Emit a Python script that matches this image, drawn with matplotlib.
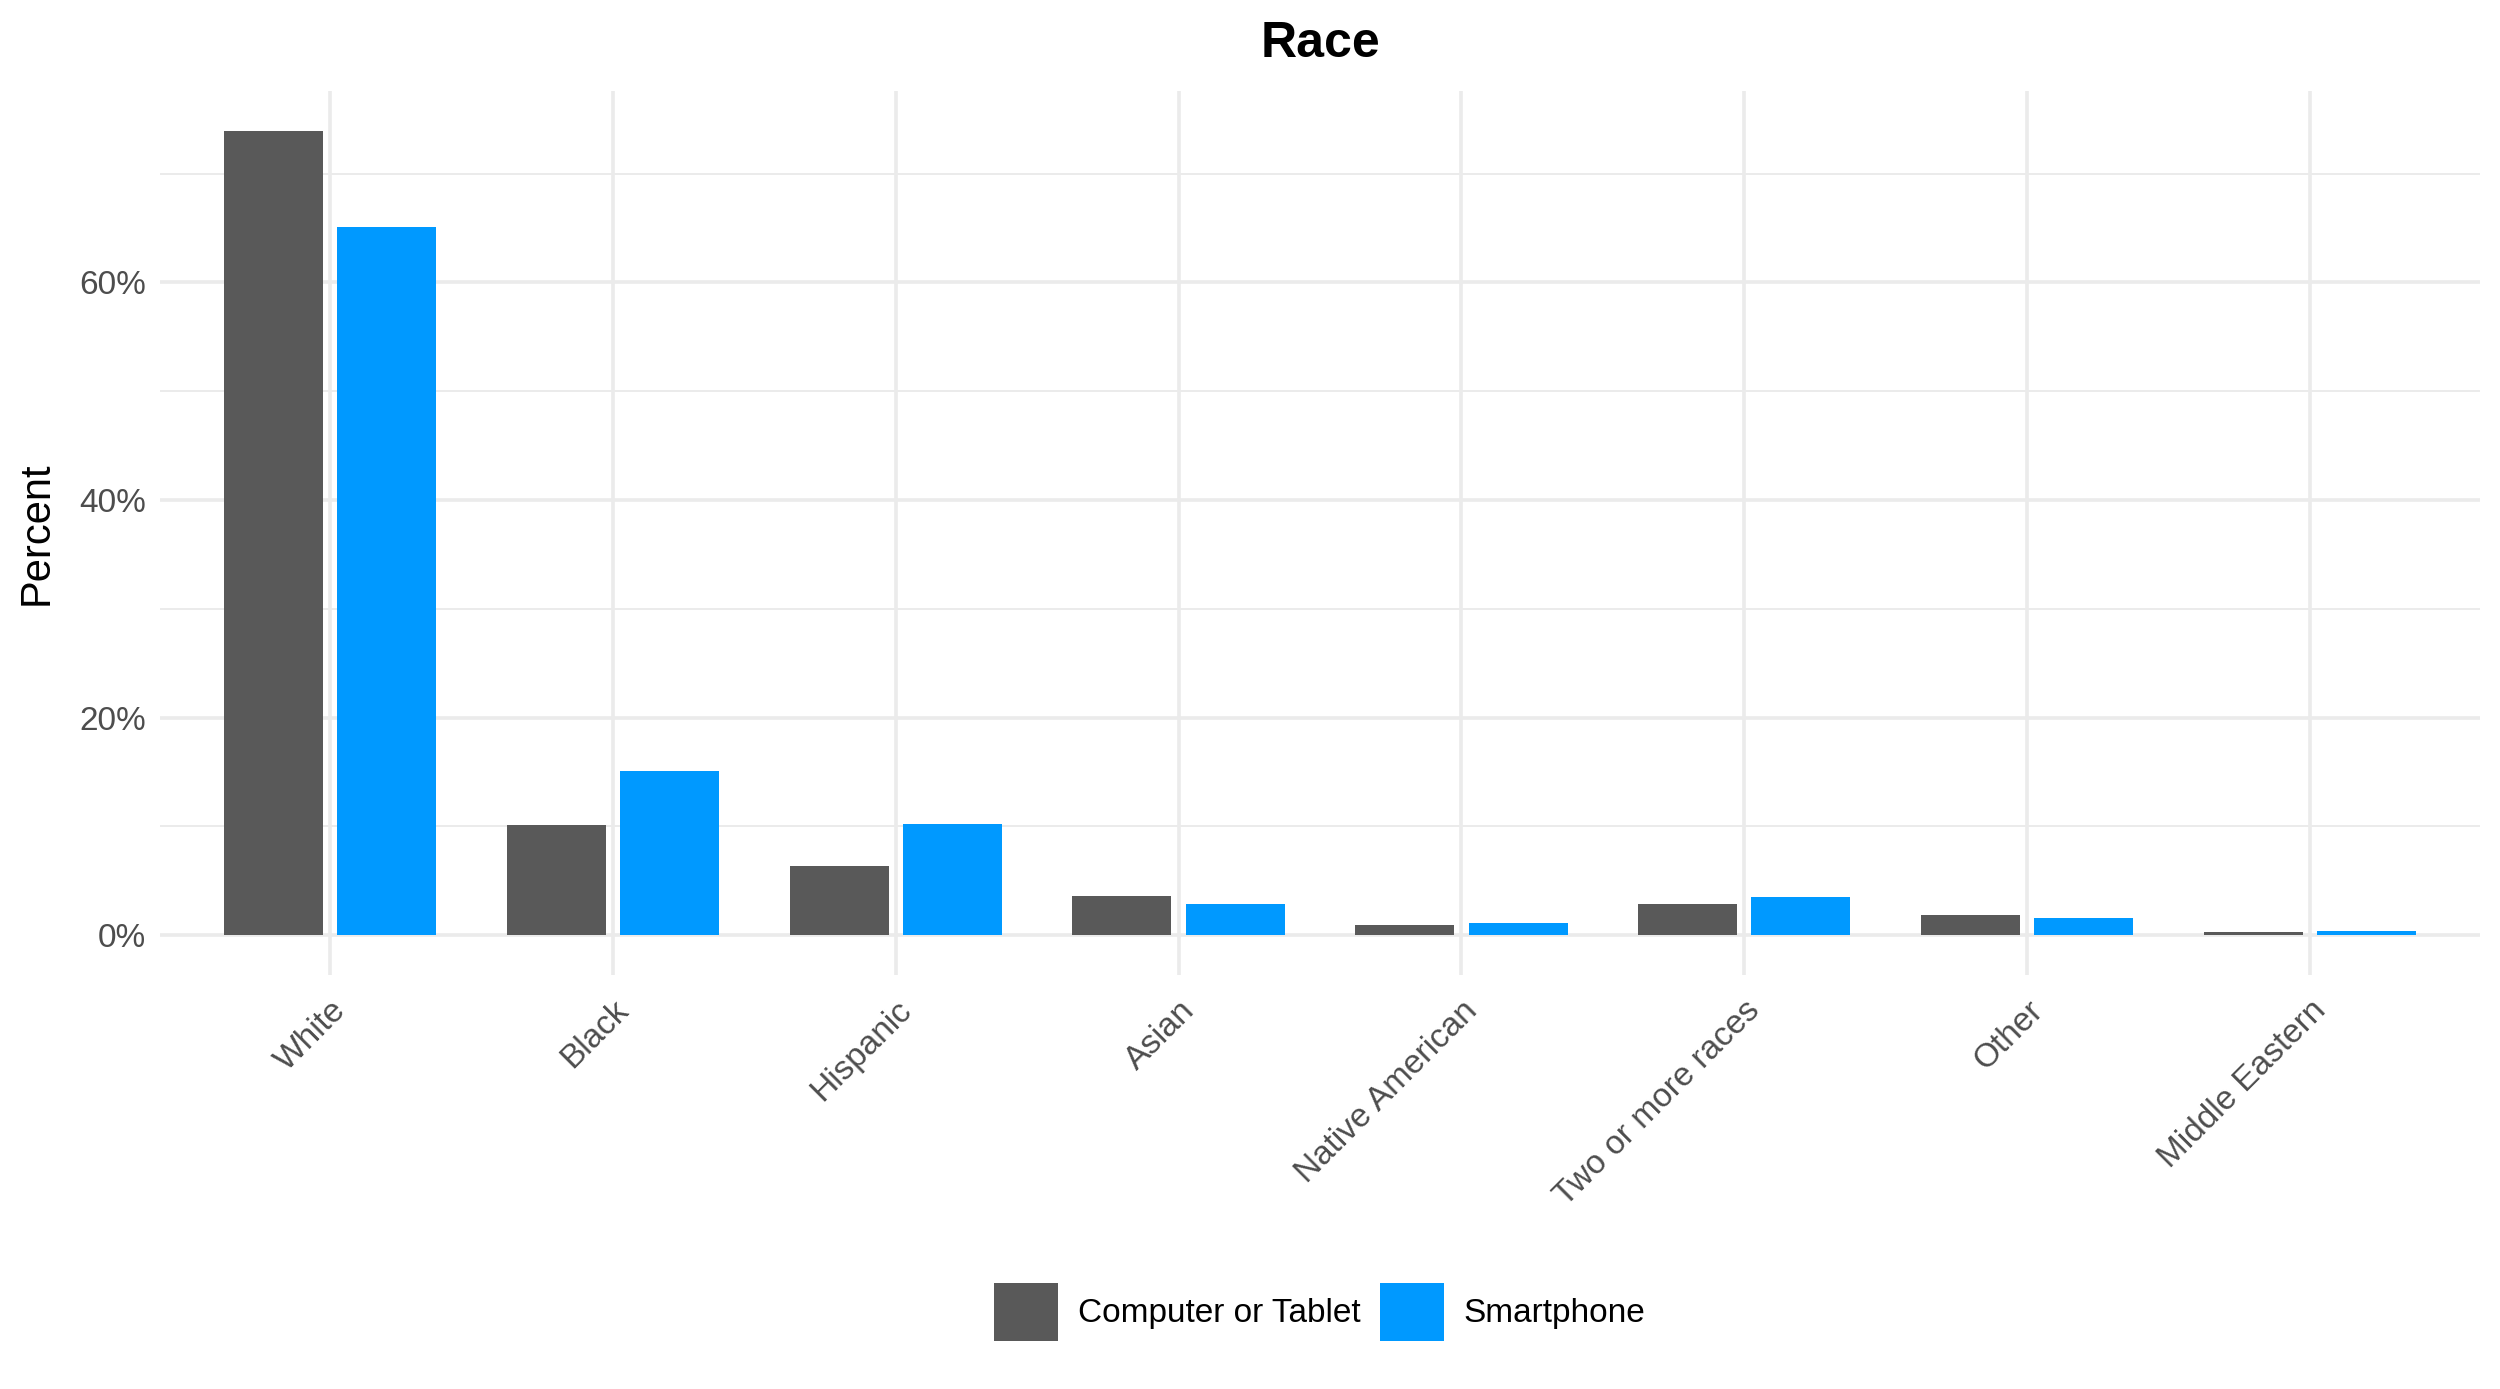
import numpy as np
import matplotlib
matplotlib.use("Agg")
import matplotlib.pyplot as plt
from matplotlib.ticker import FixedLocator, FuncFormatter

plt.rcParams['font.family'] = ['Liberation Sans', 'DejaVu Sans']

# Data (percent)
races = ["White", "Black", "Hispanic", "Asian", "Native American",
         "Two or more races", "Other", "Middle Eastern"]
computer_tablet = [73.9, 10.1, 6.4, 3.6, 0.9, 2.9, 1.9, 0.3]
smartphone = [65.1, 15.1, 10.2, 2.9, 1.1, 3.5, 1.6, 0.4]
series_names = ["Computer or Tablet", "Smartphone"]
colors = ["#595959", "#0099FF"]

fig = plt.figure(figsize=(25, 13.89), dpi=100)
ax = fig.add_axes([0.064, 0.2977, 0.928, 0.6368])

x = np.arange(1, len(races) + 1)
w = 0.35
off = 0.2
ax.bar(x - off, computer_tablet, width=w, color=colors[0], label=series_names[0], zorder=3)
ax.bar(x + off, smartphone, width=w, color=colors[1], label=series_names[1], zorder=3)

ymax = max(max(computer_tablet), max(smartphone))
ax.set_ylim(-0.05 * ymax, ymax * 1.05)
ax.set_xlim(0.4, len(races) + 0.6)

# ggplot-like minimal theme
for s in ax.spines.values():
    s.set_visible(False)
ax.yaxis.set_major_locator(FixedLocator([0, 20, 40, 60]))
ax.yaxis.set_minor_locator(FixedLocator([10, 30, 50, 70]))
ax.yaxis.set_major_formatter(FuncFormatter(lambda v, p: f"{v:.0f}%"))
ax.set_xticks(x)
ax.set_xticklabels(races, rotation=45, ha="right", va="top", rotation_mode="anchor")
ax.grid(which="major", color="#EBEBEB", linewidth=2.6, zorder=0)
ax.grid(which="minor", axis="y", color="#EBEBEB", linewidth=1.4, zorder=0)
ax.tick_params(which="both", length=0, labelsize=24, labelcolor="#4D4D4D")
ax.tick_params(axis="y", pad=10)
ax.tick_params(axis="x", pad=14)
ax.set_axisbelow(True)

ax.set_ylabel("Percent", fontsize=30, labelpad=16)
fig.text(0.528, 0.9685, "Race", fontsize=36, fontweight="bold", ha="center", va="center")

fig.legend(loc="center", bbox_to_anchor=(0.528, 0.0555), ncol=2, frameon=False,
           fontsize=24, handlelength=1.9, handleheight=2.3, handletextpad=0.6,
           columnspacing=0.6)

fig.savefig("out.png", dpi=100)
